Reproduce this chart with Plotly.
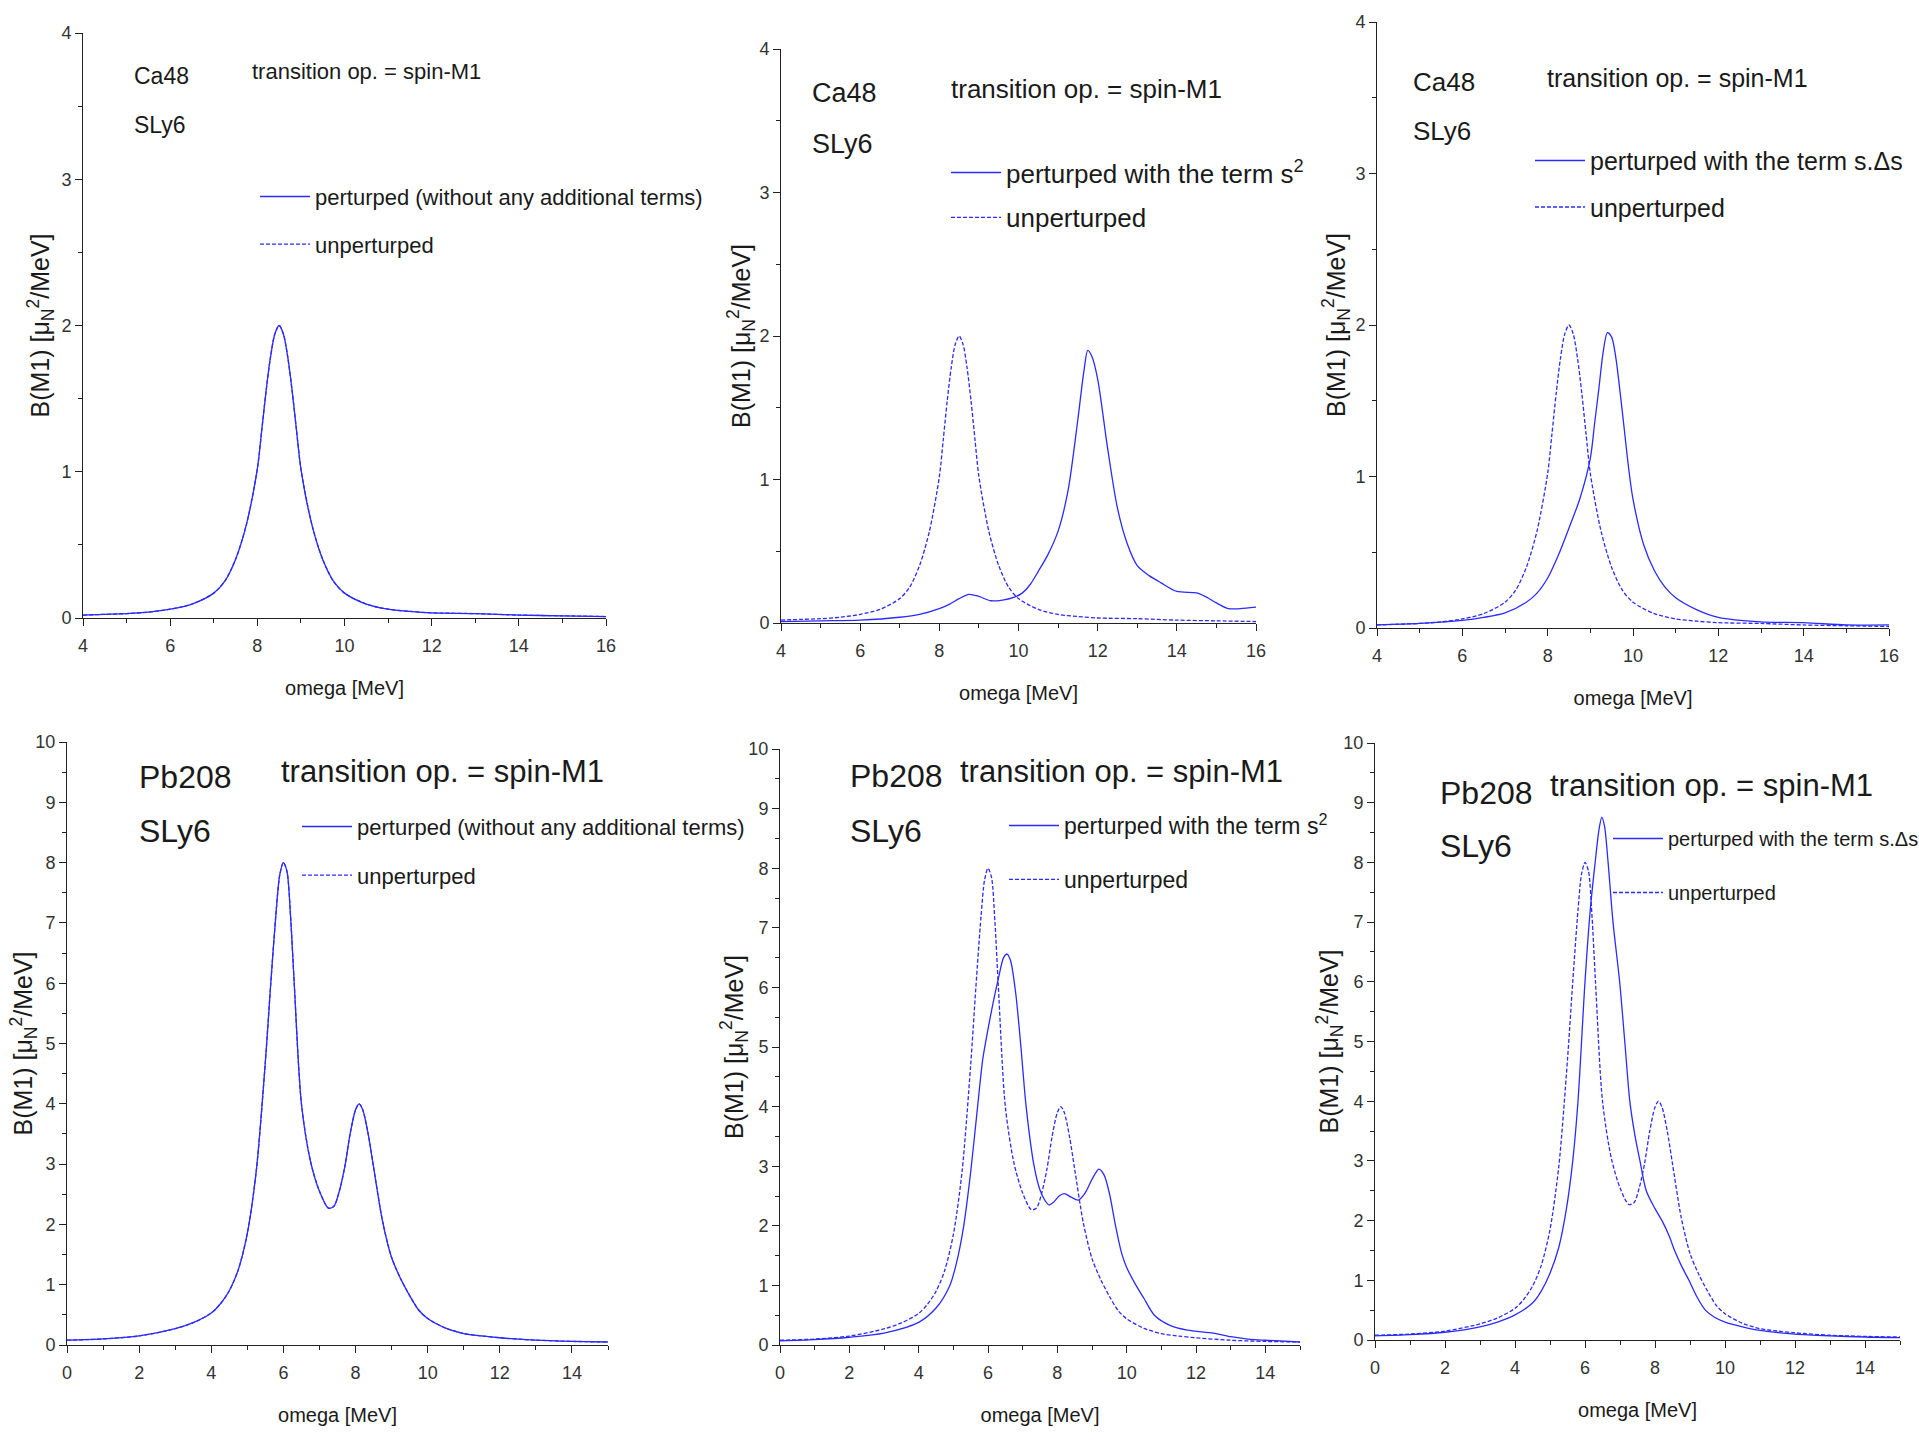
import plotly.graph_objects as go

# ---------------- data ----------------
ca48_unpert_omega = [4, 4.5, 5, 5.5, 6, 6.5, 7, 7.25, 7.5, 7.75, 8.0, 8.1, 8.2, 8.3, 8.4, 8.5,
                     8.6, 8.7, 8.8, 8.9, 9.0, 9.25, 9.5, 9.75, 10, 10.5, 11, 11.5, 12, 13, 14, 15, 16]
ca48_unpert = [0.02, 0.025, 0.03, 0.04, 0.06, 0.095, 0.17, 0.25, 0.4, 0.64, 1.02, 1.28, 1.55, 1.78, 1.94, 2.0,
               1.94, 1.78, 1.55, 1.28, 1.02, 0.64, 0.4, 0.25, 0.17, 0.095, 0.06, 0.045, 0.035, 0.03, 0.02, 0.015, 0.01]

ca48_s2_omega = [4, 5, 6, 7, 7.5, 8, 8.25, 8.5, 8.75, 9.0, 9.3, 9.6, 9.9, 10.1, 10.3, 10.5, 10.75, 11.0,
                 11.25, 11.5, 11.65, 11.75, 11.85, 12.0, 12.25, 12.5, 12.75, 13.0, 13.3, 13.6, 14.0, 14.5,
                 14.75, 15.0, 15.3, 15.6, 16]
ca48_s2 = [0.01, 0.015, 0.02, 0.04, 0.06, 0.1, 0.13, 0.17, 0.2, 0.185, 0.155, 0.16, 0.18, 0.21, 0.27, 0.36,
           0.48, 0.64, 0.92, 1.42, 1.75, 1.9, 1.86, 1.7, 1.22, 0.8, 0.55, 0.4, 0.33, 0.28, 0.22, 0.21,
           0.18, 0.14, 0.1, 0.1, 0.11]

ca48_sds_omega = [4, 5, 6, 6.5, 7, 7.5, 7.75, 8.0, 8.25, 8.5, 8.75, 9.0, 9.1, 9.2, 9.3, 9.4, 9.5, 9.6,
                  9.7, 9.8, 9.9, 10.0, 10.25, 10.5, 10.75, 11, 11.5, 12, 13, 14, 15, 16]
ca48_sds = [0.02, 0.03, 0.05, 0.07, 0.1, 0.17, 0.23, 0.33, 0.48, 0.66, 0.85, 1.12, 1.35, 1.58, 1.82, 1.95,
            1.92, 1.78, 1.55, 1.3, 1.05, 0.85, 0.55, 0.38, 0.27, 0.2, 0.12, 0.07, 0.04, 0.035, 0.02, 0.02]

pb208_unpert_omega = [0, 1, 2, 3, 3.5, 4, 4.25, 4.5, 4.75, 5.0, 5.25, 5.5, 5.65, 5.8, 5.9, 6.0, 6.1, 6.2, 6.3,
                      6.5, 6.75, 7.0, 7.25, 7.4, 7.55, 7.7, 7.85, 8.0, 8.1, 8.2, 8.35, 8.5, 8.75, 9.0,
                      9.25, 9.5, 9.75, 10, 10.5, 11, 11.5, 12, 13, 14, 15]
pb208_unpert = [0.08, 0.1, 0.15, 0.27, 0.37, 0.53, 0.68, 0.9, 1.25, 1.85, 2.9, 4.7, 6.0, 7.2, 7.8, 8.0, 7.85, 7.1, 6.0,
                4.0, 3.05, 2.55, 2.27, 2.3, 2.55, 2.95, 3.5, 3.9, 4.0, 3.9, 3.5, 2.95, 2.05, 1.45,
                1.1, 0.82, 0.58, 0.44, 0.28, 0.19, 0.15, 0.12, 0.08, 0.06, 0.05]

pb208_s2_omega = [0, 1, 2, 3, 4, 4.5, 4.9, 5.1, 5.3, 5.5, 5.7, 5.85, 6.0, 6.15, 6.3, 6.45, 6.55, 6.65,
                  6.8, 6.95, 7.1, 7.33, 7.5, 7.65, 7.76, 7.9, 8.05, 8.2, 8.4, 8.6, 8.8, 9.0, 9.2, 9.35,
                  9.5, 9.68, 9.85, 10.0, 10.27, 10.5, 10.8, 11.25, 11.75, 12.5, 13.0, 13.5, 14, 15]
pb208_s2 = [0.07, 0.09, 0.13, 0.2, 0.38, 0.62, 1.0, 1.4, 2.0, 2.9, 4.0, 4.8, 5.3, 5.75, 6.15, 6.5, 6.56, 6.45,
            5.9, 5.0, 4.0, 3.0, 2.6, 2.42, 2.35, 2.4, 2.5, 2.54, 2.48, 2.43, 2.55, 2.78, 2.95, 2.85,
            2.55, 2.0, 1.55, 1.3, 1.0, 0.78, 0.5, 0.33, 0.25, 0.2, 0.14, 0.1, 0.08, 0.05]

pb208_sds_omega = [0, 1, 2, 3, 3.5, 4, 4.5, 4.75, 5.0, 5.25, 5.47, 5.65, 5.8, 6.0, 6.15, 6.29, 6.4, 6.48,
                   6.56, 6.66, 6.8, 6.99, 7.15, 7.28, 7.42, 7.57, 7.75, 8.0, 8.2, 8.4, 8.56, 8.75, 8.97,
                   9.2, 9.44, 9.7, 10, 10.5, 11, 12, 13, 14, 15]
pb208_sds = [0.07, 0.09, 0.13, 0.22, 0.3, 0.42, 0.62, 0.82, 1.12, 1.55, 2.2, 3.0, 4.0, 6.0, 7.2, 8.0, 8.55, 8.76,
             8.6, 8.0, 7.0, 6.0, 4.9, 4.0, 3.45, 3.0, 2.5, 2.2, 2.0, 1.75, 1.5, 1.25, 1.0,
             0.72, 0.5, 0.38, 0.3, 0.22, 0.16, 0.1, 0.07, 0.05, 0.04]

nucleus_labels = ["Ca48", "Ca48", "Ca48", "Pb208", "Pb208", "Pb208"]
force_label = "SLy6"
operator_label = "transition op. = spin-M1"
pert_labels = ["perturped (without any additional terms)",
               "perturped with the term s<sup>2</sup>",
               "perturped with the term s.\u0394s"]
unpert_label = "unperturped"
x_title = "omega [MeV]"
y_title = "B(M1) [\u03bc<sub>N</sub><sup>2</sup>/MeV]"

# ---------------- layout helpers ----------------
W, H = 1919, 1440
BLUE = "#2b2bff"
REG = "Liberation Sans, Arial, sans-serif"
TXT = "#1a1a1a"

def px(x):
    return x / W

def py(y):
    return 1 - y / H

# axis boxes in pixels: (x0, x1, ytop, ybottom)
boxes = [
    (83, 606, 33, 618),
    (781, 1256, 49, 623),
    (1377, 1889, 22, 628),
    (67, 608, 742, 1345),
    (780, 1300, 749, 1345),
    (1375, 1900, 743, 1340),
]
# horizontal centre of each rotated y-axis title, in pixels
ytitle_x = [40, 741, 1336, 23, 734, 1329]

panels = [
    (ca48_unpert_omega, ca48_unpert, ca48_unpert_omega, ca48_unpert, pert_labels[0]),
    (ca48_s2_omega, ca48_s2, ca48_unpert_omega, ca48_unpert, pert_labels[1]),
    (ca48_sds_omega, ca48_sds, ca48_unpert_omega, ca48_unpert, pert_labels[2]),
    (pb208_unpert_omega, pb208_unpert, pb208_unpert_omega, pb208_unpert, pert_labels[0]),
    (pb208_s2_omega, pb208_s2, pb208_unpert_omega, pb208_unpert, pert_labels[1]),
    (pb208_sds_omega, pb208_sds, pb208_unpert_omega, pb208_unpert, pert_labels[2]),
]

# legend placement (legend text left x, first item centre y, font size, item spacing)
legend_pos = [
    (315, 198, 22, 47),
    (1006, 174, 26, 45),
    (1590, 162, 25, 46),
    (357, 828, 22, 48),
    (1064, 827, 23, 54),
    (1668, 840, 20, 53),
]
ITEMW = 50

fig = go.Figure()
layout = dict(
    width=W, height=H,
    margin=dict(l=0, r=0, t=0, b=0, autoexpand=False),
    paper_bgcolor="white", plot_bgcolor="white",
    showlegend=True,
)
annotations = []

for i, (box, pan, lp) in enumerate(zip(boxes, panels, legend_pos)):
    n = i + 1
    xa = "x" if n == 1 else f"x{n}"
    ya = "y" if n == 1 else f"y{n}"
    lg = "legend" if n == 1 else f"legend{n}"
    px_, py_, ux, uy, plabel = pan
    fig.add_trace(go.Scatter(x=px_, y=py_, mode="lines", name=plabel, xaxis=xa, yaxis=ya,
                             line=dict(color=BLUE, width=1.3, shape="spline", smoothing=0.8),
                             legend=lg, legendgroup=f"p{n}"))
    fig.add_trace(go.Scatter(x=ux, y=uy, mode="lines", name=unpert_label, xaxis=xa, yaxis=ya,
                             line=dict(color=BLUE, width=1.3, dash="4px,2px", shape="spline", smoothing=0.8),
                             legend=lg, legendgroup=f"u{n}"))

    x0, x1, yt, yb = box
    top_panel = n <= 3
    xrange = [4, 16] if top_panel else [0, 15]
    yrange = [0, 4] if top_panel else [0, 10]
    axfont = dict(family=REG, size=18, color="#333333")
    layout["xaxis" if n == 1 else f"xaxis{n}"] = dict(
        domain=[px(x0), px(x1)], anchor=ya, range=xrange, dtick=2, tick0=0,
        ticks="outside", ticklen=7, tickwidth=1, tickcolor="#222",
        minor=dict(ticks="outside", ticklen=4, dtick=1, tickcolor="#222"),
        showline=True, linecolor="#222", linewidth=1, showgrid=False, zeroline=False,
        tickfont=axfont, automargin=False, ticklabelstandoff=4,
        title=dict(text=x_title, font=dict(family=REG, size=20, color=TXT), standoff=26),
    )
    layout["yaxis" if n == 1 else f"yaxis{n}"] = dict(
        domain=[py(yb), py(yt)], anchor=xa, range=yrange, dtick=1, tick0=0,
        ticks="outside", ticklen=7, tickwidth=1, tickcolor="#222",
        minor=dict(ticks="outside", ticklen=4, dtick=0.5, tickcolor="#222"),
        showline=True, linecolor="#222", linewidth=1, showgrid=False, zeroline=False,
        tickfont=axfont, automargin=False,
    )
    # rotated y-axis title
    annotations.append(dict(text=y_title, x=px(ytitle_x[i]), y=py((yt + yb) / 2),
                            xref="paper", yref="paper", xanchor="center", yanchor="middle",
                            textangle=-90, showarrow=False,
                            font=dict(family=REG, size=25, color=TXT)))
    lx, ly, lfs, lgap = lp
    layout[lg] = dict(
        x=px(lx - (ITEMW + 10)), y=py(ly - (8 + 0.65 * lfs)), xanchor="left", yanchor="top",
        bgcolor="rgba(0,0,0,0)", borderwidth=0,
        font=dict(family=REG, size=lfs, color=TXT),
        traceorder="grouped", tracegroupgap=max(int(lgap - 1.4 * lfs), 0),
        itemwidth=ITEMW, itemclick=False, itemdoubleclick=False,
    )

# text labels in each panel: (nucleus xy, SLy6 y, operator xy, nucleus size, operator size)
text_pos = [
    ((132, 76), 125, (250, 71), 23, 22),
    ((810, 93), 144, (949, 89), 27, 26),
    ((1411, 82), 131, (1545, 78), 26, 25),
    ((137, 777), 831, (279, 771), 32, 31),
    ((848, 776), 831, (958, 771), 32, 31),
    ((1438, 793), 846, (1548, 786), 32, 31),
]
for i, ((nx, ny), sy, (ox, oy), nfs, ofs) in enumerate(text_pos):
    annotations.append(dict(text=nucleus_labels[i], x=px(nx), y=py(ny), xref="paper", yref="paper",
                            xanchor="left", yanchor="middle", showarrow=False,
                            font=dict(family=REG, size=nfs, color=TXT)))
    annotations.append(dict(text=force_label, x=px(nx), y=py(sy), xref="paper", yref="paper",
                            xanchor="left", yanchor="middle", showarrow=False,
                            font=dict(family=REG, size=nfs, color=TXT)))
    annotations.append(dict(text=operator_label, x=px(ox), y=py(oy), xref="paper", yref="paper",
                            xanchor="left", yanchor="middle", showarrow=False,
                            font=dict(family=REG, size=ofs, color=TXT)))
layout["annotations"] = annotations

fig.update_layout(**layout)
fig.write_html("out.html")
